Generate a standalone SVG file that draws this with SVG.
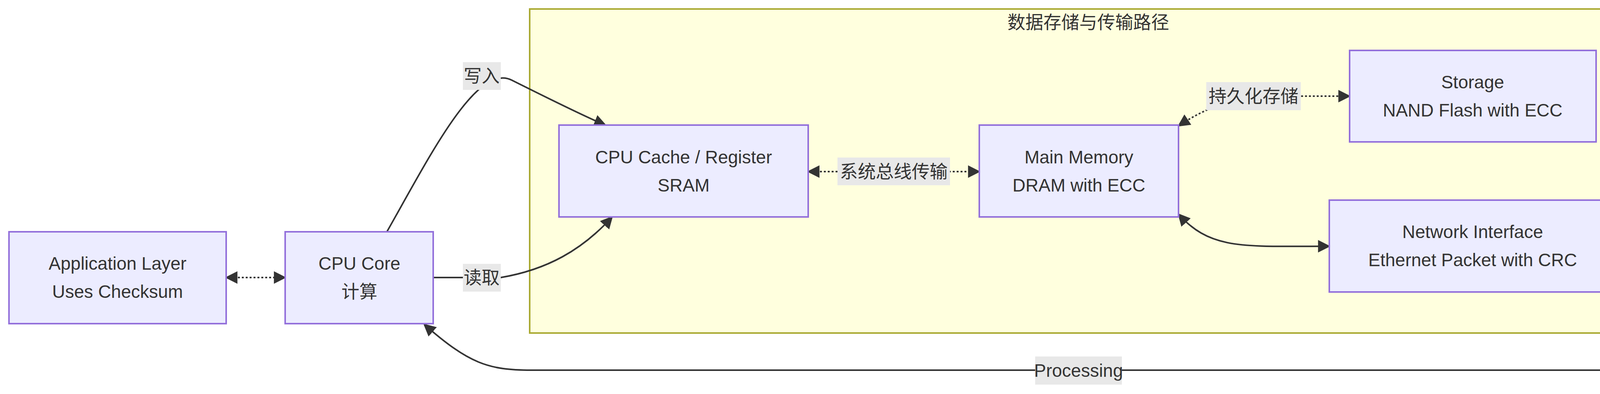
<svg xmlns="http://www.w3.org/2000/svg" width="5218" height="1008" viewBox="0 0 5218 1008">
<style>
.n{fill:#ECECFF;stroke:#9370DB;stroke-width:4}
.t{font-family:"Liberation Sans","Noto Sans CJK SC",sans-serif;font-size:46px;fill:#333;text-anchor:middle;dominant-baseline:central}
.e{fill:none;stroke:#333;stroke-width:4}
.d{stroke-dasharray:5 5}
.lb{fill:#e8e8e8}
</style>
<defs>
<marker id="ae" viewBox="0 0 10 10" refX="9" refY="5" markerWidth="8" markerHeight="8" orient="auto" markerUnits="userSpaceOnUse" ><path d="M0,0 L10,5 L0,10 z" fill="#333"/></marker>
<marker id="a" viewBox="0 0 10 10" refX="9" refY="5" markerWidth="32" markerHeight="32" orient="auto-start-reverse" markerUnits="userSpaceOnUse"><path d="M0,0 L10,5 L0,10 z" fill="#333"/></marker>
</defs>
<g id="cluster">
<rect x="1356" y="23" width="2857" height="829" fill="#ffffde" stroke="#aaaa33" stroke-width="4"/>
<text class="t" x="2786" y="57">数据存储与传输路径</text>
</g>
<g id="edges">
<path class="e d" d="M579,710 L730,710" marker-start="url(#a)" marker-end="url(#a)"/>
<path class="e" d="M991,592 C1100,400 1220,160 1310,205 C1380,240 1500,300 1550,320" marker-end="url(#a)"/>
<path class="e" d="M1109,710 L1282,710 C1400,690 1490,640 1567,555" marker-end="url(#a)"/>
<path class="e d" d="M2069,439 L2507,439" marker-start="url(#a)" marker-end="url(#a)"/>
<path class="e d" d="M3017,322 Q3110,260 3210,246 L3455,246" marker-start="url(#a)" marker-end="url(#a)"/>
<path class="e" d="M3017,548 C3100,640 3180,630 3403,630" marker-start="url(#a)" marker-end="url(#a)"/>
<path class="e" d="M4136,630 L4300,630 C4350,630 4380,645 4414,662" marker-end="url(#a)"/>
<path class="e" d="M4414,913 C4360,950 4330,947 4250,947 L1360,947 C1250,947 1200,930 1086,830" marker-end="url(#a)"/>
<rect class="lb" x="1185" y="159" width="97" height="71"/><text class="t" x="1233" y="194">写入</text>
<rect class="lb" x="1185" y="675" width="97" height="71"/><text class="t" x="1233" y="710">读取</text>
<rect class="lb" x="2144" y="403" width="288" height="71"/><text class="t" x="2288" y="439">系统总线传输</text>
<rect class="lb" x="3088" y="210" width="242" height="72"/><text class="t" x="3209" y="246">持久化存储</text>
<rect class="lb" x="4287" y="595" width="51" height="71"/><text class="t" x="4312" y="630">Rx</text>
<rect class="lb" x="2650" y="912" width="222" height="72"/><text class="t" x="2761" y="948">Processing</text>
</g>
<g id="app"><rect class="n" x="23" y="593" width="556" height="235"/><text class="t" x="301" y="674">Application Layer</text><text class="t" x="301" y="746">Uses Checksum</text></g>
<g id="core"><rect class="n" x="730" y="593" width="379" height="235"/><text class="t" x="920" y="674">CPU Core</text><text class="t" x="920" y="746">计算</text></g>
<g id="cache"><rect class="n" x="1431" y="320" width="638" height="235"/><text class="t" x="1750" y="402">CPU Cache / Register</text><text class="t" x="1750" y="474">SRAM</text></g>
<g id="mem"><rect class="n" x="2507" y="320" width="510" height="235"/><text class="t" x="2762" y="402">Main Memory</text><text class="t" x="2762" y="474">DRAM with ECC</text></g>
<g id="storage"><rect class="n" x="3455" y="129" width="631" height="234"/><text class="t" x="3770" y="210">Storage</text><text class="t" x="3770" y="282">NAND Flash with ECC</text></g>
<g id="net"><rect class="n" x="3403" y="512" width="733" height="235"/><text class="t" x="3770" y="593">Network Interface</text><text class="t" x="3770" y="665">Ethernet Packet with CRC</text></g>
<g id="recv"><rect class="n" x="4414" y="635" width="779" height="307"/><text class="t" x="4803" y="716">Received Data</text><text class="t" x="4803" y="788">Checked by CRC &amp;</text><text class="t" x="4803" y="860">Checksum</text></g>
</svg>
